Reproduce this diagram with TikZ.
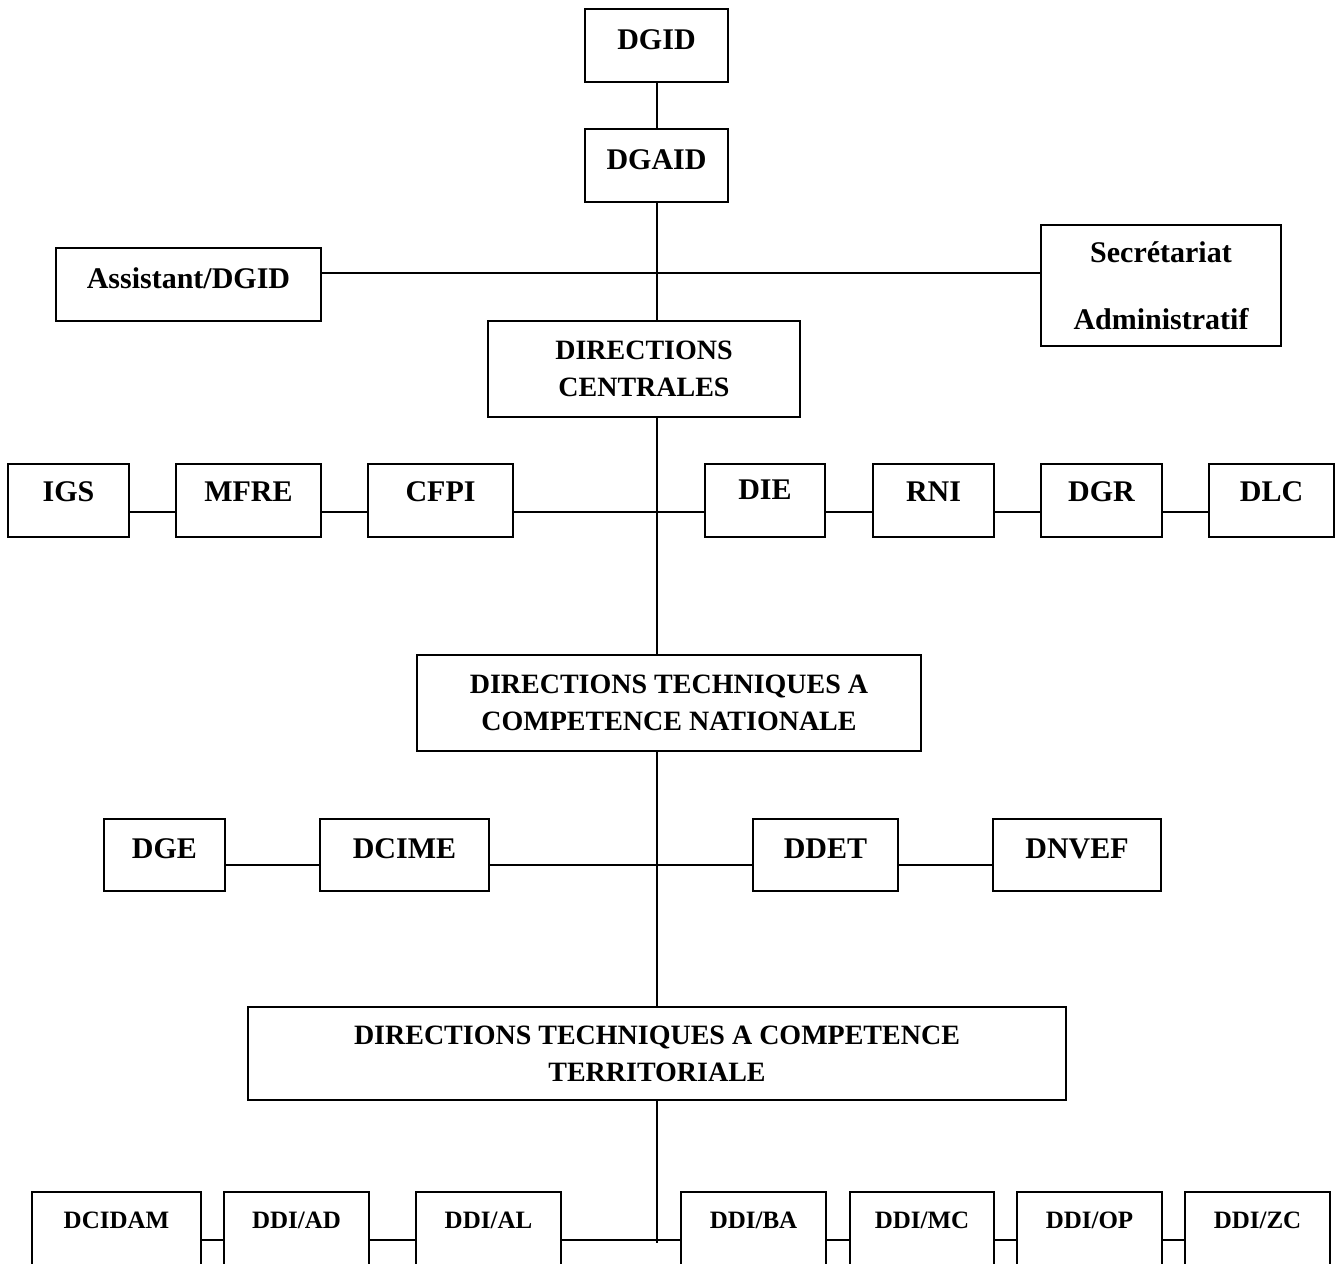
\documentclass[tikz,border=0pt]{standalone}
\usepackage{fontspec}
\setmainfont{Liberation Serif}
\newcommand\orgbox[7][]{\node[obox,#1,minimum width={(#5-#3)*0.5pt},minimum height={(#6-#4)*0.5pt}] (#2) at ({(#3+#5)/2},{(#4+#6)/2}) {#7};}
\tikzset{
  obox/.style={draw, line width=1.2pt, inner sep=0pt, align=center, font=\bfseries\fontsize{15}{18}\selectfont},
  onebig/.style={text depth=6pt},
  rowtwo/.style={text depth=9pt},
  bigbox/.style={font=\bfseries\fontsize{14}{18.5}\selectfont},
  smallbox/.style={font=\bfseries\fontsize{12.5}{15}\selectfont, text depth=26pt},
  conn/.style={line width=1pt}
}
\begin{document}
\begin{tikzpicture}[x=0.5pt,y=-0.5pt]
\useasboundingbox (0,0) rectangle (1339,1264);
\clip (0,0) rectangle (1339,1264);
% top
\orgbox[onebig]{dgid}{585}{9}{728}{82}{DGID}
\orgbox[onebig]{dgaid}{585}{129}{728}{202}{DGAID}
\orgbox[onebig]{asst}{56}{248}{321}{321}{Assistant/DGID}
\orgbox[font=\bfseries\fontsize{15}{33.5}\selectfont]{sec}{1041}{225}{1281}{346}{Secrétariat\\Administratif}
\orgbox[bigbox]{dc}{488}{321}{800}{417}{DIRECTIONS\\CENTRALES}
% row 2
\orgbox[rowtwo]{igs}{8}{464}{129}{537}{IGS}
\orgbox[rowtwo]{mfre}{176}{464}{321}{537}{MFRE}
\orgbox[rowtwo]{cfpi}{368}{464}{513}{537}{CFPI}
\orgbox[rowtwo,text depth=11pt]{die}{705}{464}{825}{537}{DIE}
\orgbox[rowtwo]{rni}{873}{464}{994}{537}{RNI}
\orgbox[rowtwo]{dgr}{1041}{464}{1162}{537}{DGR}
\orgbox[rowtwo]{dlc}{1209}{464}{1334}{537}{DLC}
% national
\orgbox[bigbox]{dtcn}{417}{655}{921}{751}{DIRECTIONS TECHNIQUES A\\COMPETENCE NATIONALE}
% row 3
\orgbox[onebig]{dge}{104}{819}{225}{891}{DGE}
\orgbox[onebig]{dcime}{320}{819}{489}{891}{DCIME}
\orgbox[onebig]{ddet}{753}{819}{898}{891}{DDET}
\orgbox[onebig]{dnvef}{993}{819}{1161}{891}{DNVEF}
% territorial
\orgbox[bigbox]{dtct}{248}{1007}{1066}{1100}{DIRECTIONS TECHNIQUES A COMPETENCE\\TERRITORIALE}
% row 4
\orgbox[smallbox]{dcidam}{32}{1192}{201}{1300}{DCIDAM}
\orgbox[smallbox]{ddiad}{224}{1192}{369}{1300}{DDI/AD}
\orgbox[smallbox]{ddial}{416}{1192}{561}{1300}{DDI/AL}
\orgbox[smallbox]{ddiba}{681}{1192}{826}{1300}{DDI/BA}
\orgbox[smallbox]{ddimc}{850}{1192}{994}{1300}{DDI/MC}
\orgbox[smallbox]{ddiop}{1017}{1192}{1162}{1300}{DDI/OP}
\orgbox[smallbox]{ddizc}{1185}{1192}{1330}{1300}{DDI/ZC}
% junctions
\coordinate (j1) at (656.5,273);
\coordinate (j2) at (656.5,512);
\coordinate (j3) at (656.5,865);
\coordinate (j4) at (656.5,1240);
\coordinate (s4) at (656.5,1243);
% spine
\draw[conn] (dgid.south) -- (dgaid.north);
\draw[conn] (dgaid.south) -- (dgaid.south |- dc.north);
\draw[conn] (dc.south -| dgaid) -- (dtcn.north -| dgaid);
\draw[conn] (dtcn.south -| dgaid) -- (dtct.north -| dgaid);
\draw[conn] (dtct.south -| dgaid) -- (s4);
% level 1
\draw[conn] (asst.east |- j1) -- (sec.west |- j1);
% row 2
\draw[conn] (igs.east |- j2) -- (mfre.west |- j2);
\draw[conn] (mfre.east |- j2) -- (cfpi.west |- j2);
\draw[conn] (cfpi.east |- j2) -- (die.west |- j2);
\draw[conn] (die.east |- j2) -- (rni.west |- j2);
\draw[conn] (rni.east |- j2) -- (dgr.west |- j2);
\draw[conn] (dgr.east |- j2) -- (dlc.west |- j2);
% row 3
\draw[conn] (dge.east |- j3) -- (dcime.west |- j3);
\draw[conn] (dcime.east |- j3) -- (ddet.west |- j3);
\draw[conn] (ddet.east |- j3) -- (dnvef.west |- j3);
% row 4
\draw[conn] (dcidam.east |- j4) -- (ddiad.west |- j4);
\draw[conn] (ddiad.east |- j4) -- (ddial.west |- j4);
\draw[conn] (ddial.east |- j4) -- (ddiba.west |- j4);
\draw[conn] (ddiba.east |- j4) -- (ddimc.west |- j4);
\draw[conn] (ddimc.east |- j4) -- (ddiop.west |- j4);
\draw[conn] (ddiop.east |- j4) -- (ddizc.west |- j4);
\end{tikzpicture}
\end{document}
